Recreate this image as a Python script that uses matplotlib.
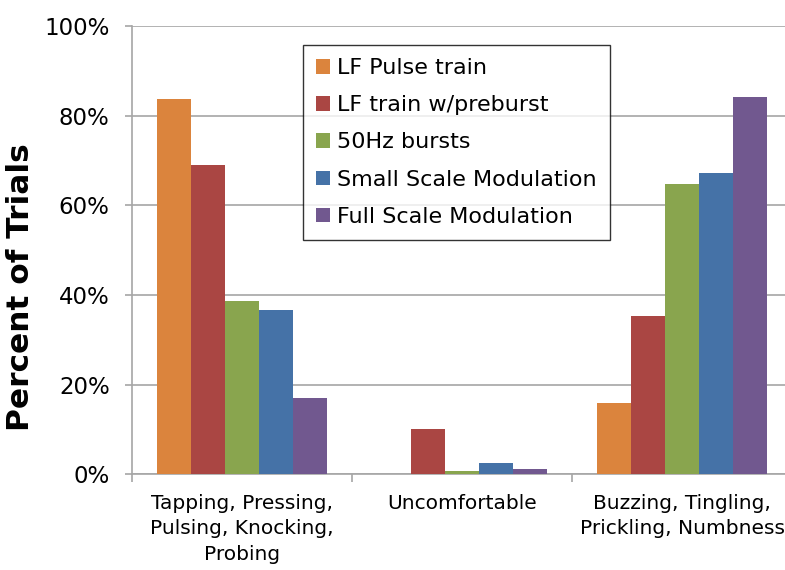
import numpy as np
import matplotlib.pyplot as plt
from matplotlib.ticker import PercentFormatter

# Data
categories = ['Tapping, Pressing,\nPulsing, Knocking,\nProbing',
              'Uncomfortable',
              'Buzzing, Tingling,\nPrickling, Numbness']
series_names = ['LF Pulse train', 'LF train w/preburst', '50Hz bursts',
                'Small Scale Modulation', 'Full Scale Modulation']
lf_pulse = [83.7, 0.0, 16.0]
lf_preburst = [68.9, 10.0, 35.4]
bursts_50hz = [38.6, 0.7, 64.8]
small_mod = [36.7, 2.5, 67.3]
full_mod = [17.0, 1.1, 84.2]
colors = ['#DB843D', '#AA4643', '#89A54E', '#4572A7', '#71588F']

series = [lf_pulse, lf_preburst, bursts_50hz, small_mod, full_mod]

fig = plt.figure(figsize=(7.85, 5.7), dpi=100)
ax = fig.add_axes([0.168, 0.168, 0.841, 0.7865])

x = np.arange(len(categories))
width = 0.154
for i, (vals, name, col) in enumerate(zip(series, series_names, colors)):
    offset = (i - 2) * width
    ax.bar(x + offset, vals, width, label=name, color=col, zorder=3)

ax.set_xlim(-0.5, 2.5)
ax.set_ylim(0, 100)
ax.set_yticks(np.arange(0, 101, 20))
ax.yaxis.set_major_formatter(PercentFormatter(decimals=0))
ax.yaxis.grid(True, color='#A6A6A6', linewidth=1.2, zorder=0)

# category ticks sit between groups, labels centred on groups
ax.set_xticks([-0.5, 0.5, 1.5, 2.5])
ax.set_xticklabels([])
ax.set_xticks(x, minor=True)
ax.set_xticklabels(categories, minor=True, fontsize=14.5, linespacing=1.44)
ax.tick_params(axis='x', which='minor', length=0, pad=14)
ax.tick_params(axis='x', which='major', length=6, color='#A6A6A6', width=1.2)
ax.tick_params(axis='y', length=5, color='#A6A6A6', width=1.2, labelsize=16.5, pad=11)

for s in ['top', 'right']:
    ax.spines[s].set_visible(False)
for s in ['left', 'bottom']:
    ax.spines[s].set_color('#A6A6A6')
    ax.spines[s].set_linewidth(1.2)

ax.set_ylabel('Percent of Trials', fontsize=22.5, fontweight='bold')
ax.yaxis.set_label_coords(-0.147, 0.418)

leg = ax.legend(loc='upper left', bbox_to_anchor=(0.259, 0.9576), fontsize=16,
                frameon=True, fancybox=False, edgecolor='black',
                handlelength=0.63, handleheight=0.63, handletextpad=0.3,
                labelspacing=0.77, borderpad=0.6, borderaxespad=0)
leg.get_frame().set_linewidth(1.0)

plt.savefig('out.png', dpi=100)
